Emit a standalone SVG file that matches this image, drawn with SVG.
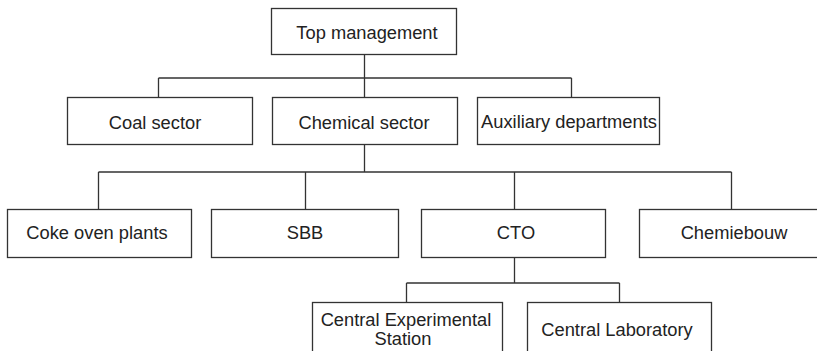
<svg xmlns="http://www.w3.org/2000/svg" width="817" height="351" viewBox="0 0 817 351">
<style>
.box{fill:#fff;stroke:#333;stroke-width:1.3}
.lbl{font-family:"Liberation Sans",Arial,sans-serif;font-size:18.3px;fill:#222;text-anchor:middle}
.con{fill:none;stroke:#333;stroke-width:1.3}
</style>
<rect width="817" height="351" fill="#fff"/>
<g id="connectors">
<path class="con" d="M364.5 54V78M158.5 78H571.5M158.5 78V97M364.5 78V97M571.5 78V97"/>
<path class="con" d="M364.5 144V172M98.5 172H731.5M98.5 172V209M305.5 172V209M514.5 172V209M731.5 172V209"/>
<path class="con" d="M514.5 257V283M406.5 283H619.5M406.5 283V302M619.5 283V302"/>
</g>
<g id="top"><rect class="box" x="271.5" y="8.5" width="185" height="46"/><text class="lbl" x="367" y="39">Top management</text></g>
<g id="coal"><rect class="box" x="67.5" y="97.5" width="185" height="47"/><text class="lbl" x="155" y="129">Coal sector</text></g>
<g id="chemical"><rect class="box" x="272.5" y="97.5" width="185" height="47"/><text class="lbl" x="364" y="129">Chemical sector</text></g>
<g id="auxiliary"><rect class="box" x="477.5" y="97.5" width="182" height="47"/><text class="lbl" x="569" y="128">Auxiliary departments</text></g>
<g id="coke"><rect class="box" x="7.5" y="209.5" width="184" height="48"/><text class="lbl" x="97" y="239">Coke oven plants</text></g>
<g id="sbb"><rect class="box" x="211.5" y="209.5" width="187" height="48"/><text class="lbl" x="305" y="239">SBB</text></g>
<g id="cto"><rect class="box" x="421.5" y="209.5" width="184" height="48"/><text class="lbl" x="516" y="239">CTO</text></g>
<g id="chemiebouw"><rect class="box" x="639.5" y="209.5" width="190" height="48"/><text class="lbl" x="734" y="239">Chemiebouw</text></g>
<g id="ces"><rect class="box" x="312.5" y="302.5" width="190" height="60"/><text class="lbl" x="406" y="326">Central Experimental</text><text class="lbl" x="403" y="345">Station</text></g>
<g id="cl"><rect class="box" x="527.5" y="302.5" width="184" height="60"/><text class="lbl" x="617" y="336">Central Laboratory</text></g>
</svg>
